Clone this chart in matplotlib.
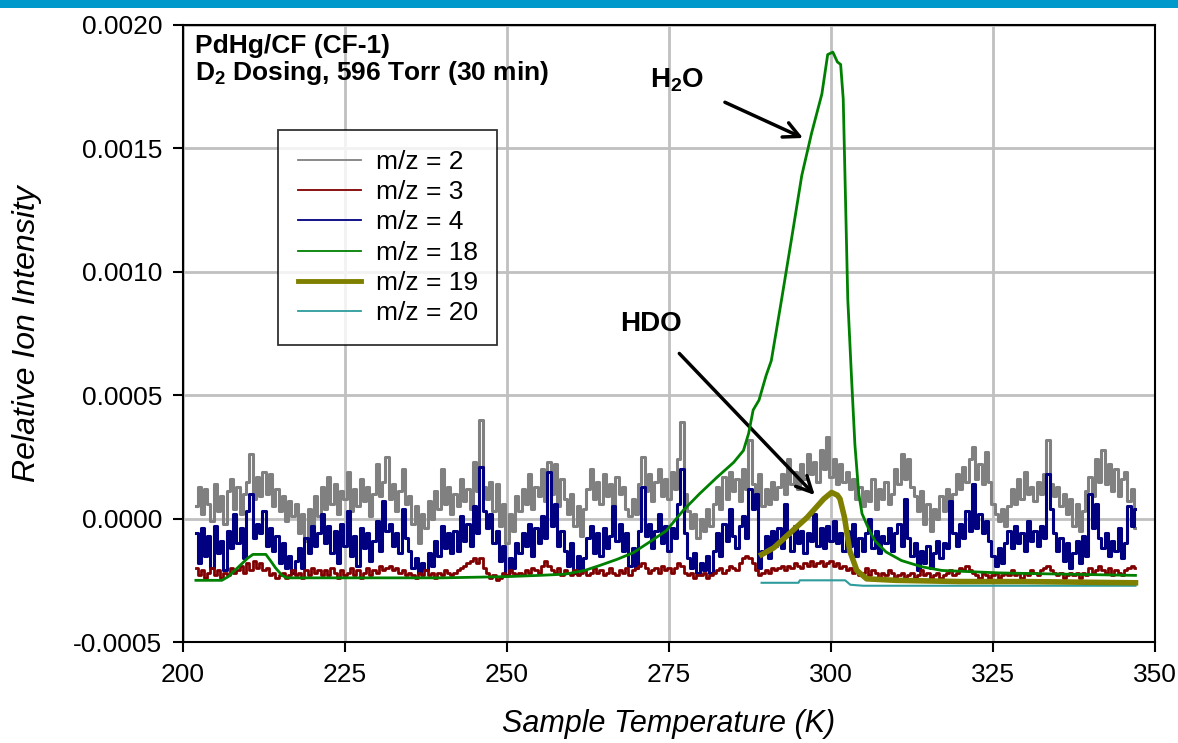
import matplotlib.pyplot as plt
import numpy as np
from matplotlib.ticker import FormatStrFormatter, MultipleLocator
from matplotlib.patches import Rectangle

plt.rcParams['font.family'] = ['Liberation Sans', 'DejaVu Sans']
plt.rcParams['mathtext.fontset'] = 'custom'
plt.rcParams['mathtext.rm'] = 'Liberation Sans'
plt.rcParams['mathtext.bf'] = 'Liberation Sans:bold'
plt.rcParams['mathtext.it'] = 'Liberation Sans:italic'

# values below are in units of 1e-4 (relative ion intensity)
SCALE = 1e-4

# noisy traces, sampled every 0.5 K from 202 K to 347 K
t_start, t_stop, t_step = 202.0, 347.0, 0.5
temps = np.arange(t_start, t_stop + t_step / 2, t_step)

mz2 = [0.5, 1.3, 0.2, 1.2, 0.6, -0.1, 1.4, 0.3, 0.9, -0.2, 1.1, 1.6, 0.4, 1.3, 0.2, 1.0, 1.5, 2.6, 0.8, 1.7,
       0.9, 1.9, 1.0, 1.8, 0.5, 1.2, 0.3, 0.9, -0.1, 0.7, 0.1, 0.6, -0.6, 0.2, -0.9, 0.4, -0.4, 0.9, 0.1, 1.3,
       0.4, 1.7, 0.6, 1.4, 0.2, 1.1, 0.8, 1.9, 0.3, 1.2, 0.5, 1.6, 0.7, 1.3, 0.1, 1.0, 2.2, 0.9, 1.5, 2.5,
       0.8, 1.4, 0.3, 1.1, 2.0, 0.6, 0.9, -0.2, 0.5, -1.0, 0.2, -0.4, 0.7, 0.0, 1.1, 0.4, 2.0, 0.6, 1.3, 0.2,
       1.0, 0.5, 1.6, 0.7, 1.2, 0.4, 2.3, 1.1, 4.0, 1.3, 0.8, 1.5, 0.3, 1.4, -0.3, 0.6, -1.0, 0.2, -0.5, 0.9,
       0.3, 1.2, 0.6, 1.8, 0.4, 1.3, 0.9, 2.0, 0.7, 2.3, 1.0, 2.2, 0.5, 1.6, 0.8, 0.2, 1.0, -0.3, 0.5, -0.7,
       0.4, 1.2, 2.0, 0.8, 1.5, 0.6, 1.8, 0.9, 1.4, 0.5, 1.7, 1.0, 1.3, 0.4, 0.1, 0.8, 0.2, 1.4, 2.5, 1.1,
       1.8, 0.7, 1.5, 2.0, 0.9, 1.6, 0.8, 1.9, 1.2, 2.4, 3.9, 1.0, 0.3, -0.4, 0.2, -0.8, 0.0, -0.5, 0.4, -0.3,
       0.6, 1.3, 0.4, 1.7, 0.8, 1.9, 1.1, 1.6, 0.7, 2.0, 1.2, 3.2, 1.4, 0.9, 1.8, 0.5, 1.2, 0.6, 1.5, 0.8,
       1.3, 1.8, 1.0, 2.4, 1.4, 1.9, 1.2, 2.2, 1.6, 2.6, 1.8, 2.3, 1.5, 2.8, 2.0, 3.3, 1.7, 2.4, 1.4, 2.2,
       1.5, 1.9, 1.2, 1.6, 0.8, 1.3, 0.5, 1.1, 0.7, 1.6, 0.4, 1.2, 0.8, 1.5, 0.6, 1.0, 2.0, 1.4, 2.6, 1.6,
       2.4, 1.3, 0.9, 0.3, 1.1, -0.2, 0.6, -0.5, 0.4, 0.0, 0.9, 0.3, 1.2, 0.5, 1.0, 1.8, 1.2, 2.1, 1.5, 2.4,
       2.9, 1.6, 2.2, 1.4, 2.7, 1.5, 0.6, 0.2, -0.1, 0.4, -0.3, 0.5, 1.2, 0.6, 1.6, 0.8, 1.9, 1.0, 1.3, 0.7,
       1.5, 1.0, 1.8, 3.2, 1.4, 0.9, 1.3, 0.5, 1.0, 0.2, 0.8, -0.3, 0.6, -0.5, 0.3, 1.1, 1.7, 0.9, 2.4, 1.5,
       2.8, 1.4, 2.2, 1.1, 2.0, 0.9, 1.6, 1.9, 0.7, 1.2, -0.4]

mz3 = [-2.0, -2.3, -2.1, -2.4, -2.2, -2.0, -2.3, -2.1, -2.4, -2.2, -2.3, -2.0, -2.2, -2.1, -1.9, -2.2, -1.8, -2.1, -1.7, -2.0,
       -1.8, -2.1, -2.0, -2.3, -2.2, -2.4, -2.3, -2.2, -2.4, -2.3, -2.1, -2.3, -2.2, -2.4, -2.1, -2.3, -2.0, -2.2, -2.1, -2.3,
       -2.1, -2.3, -2.0, -2.2, -2.4, -2.1, -2.3, -2.2, -2.0, -2.3, -2.1, -2.4, -2.2, -2.0, -2.3, -2.1, -2.2, -1.9, -2.1, -2.0,
       -1.9, -2.1, -2.0, -2.2, -2.1, -2.3, -2.2, -2.3, -2.4, -2.2, -2.3, -2.1, -2.3, -2.2, -2.4, -2.2, -2.3, -2.1, -2.2, -2.3,
       -2.2, -2.1, -2.0, -1.9, -1.8, -1.7, -1.6, -1.8, -1.6, -2.0, -2.2, -2.4, -2.3, -2.5, -2.4, -2.2, -2.3, -2.1, -2.2, -2.3,
       -2.2, -2.3, -2.1, -2.2, -2.0, -2.1, -2.2, -1.9, -1.7, -1.9, -2.1, -2.2, -2.0, -2.3, -2.1, -2.2, -2.3, -2.1, -2.3, -2.2,
       -2.1, -2.3, -2.2, -2.0, -2.2, -2.1, -2.3, -2.2, -2.0, -2.2, -2.3, -2.1, -2.2, -2.0, -2.3, -2.1, -2.0, -1.9, -1.8, -2.0,
       -2.2, -2.1, -2.0, -2.2, -1.9, -2.1, -2.0, -2.2, -2.0, -1.8, -1.9, -2.2, -2.3, -2.2, -2.4, -2.3, -2.3, -2.2, -2.4, -2.3,
       -2.2, -2.1, -2.0, -2.2, -2.1, -1.9, -2.0, -2.1, -1.8, -1.6, -1.5, -1.6, -1.8, -2.1, -2.3, -2.2, -2.1, -2.2, -2.0, -2.1,
       -2.0, -1.9, -2.1, -1.9, -2.0, -1.8, -1.9, -2.0, -1.8, -1.9, -1.7, -1.9, -1.8, -1.7, -1.9, -1.8, -1.7, -1.9, -1.8, -2.0,
       -1.9, -2.1, -2.0, -2.2, -2.1, -2.3, -2.2, -2.0, -2.3, -2.1, -2.2, -2.4, -2.2, -2.3, -2.1, -2.2, -2.4, -2.3, -2.2, -2.4,
       -2.3, -2.2, -2.4, -2.3, -2.1, -2.3, -2.2, -2.4, -2.3, -2.2, -2.4, -2.3, -2.2, -2.1, -2.3, -2.2, -2.0, -2.1, -1.9, -2.1,
       -2.2, -2.3, -2.4, -2.2, -2.3, -2.4, -2.3, -2.2, -2.4, -2.3, -2.2, -2.3, -2.1, -2.3, -2.2, -2.4, -2.2, -2.3, -2.1, -2.2,
       -2.3, -2.1, -2.0, -1.9, -2.1, -2.2, -2.3, -2.2, -2.4, -2.3, -2.2, -2.3, -2.2, -2.4, -2.2, -2.3, -2.0, -2.2, -2.1, -1.9,
       -2.1, -2.2, -2.0, -2.3, -2.1, -2.2, -2.3, -2.1, -2.0, -1.9, -2.0]

mz4 = [-0.6, -1.8, -0.4, -1.5, -0.7, -2.0, -0.3, -1.4, -0.9, -2.1, -0.5, -1.2, 0.2, -1.0, -0.4, -1.6, 0.3, 1.0, -0.8, -0.2,
       -0.6, 0.3, -1.1, -0.4, -1.3, -0.7, -1.8, -1.0, -2.0, -1.5, -2.2, -1.7, -1.2, -2.0, -0.8, -1.4, -0.3, -1.1, -0.6, 0.2,
       -1.0, -0.3, -1.4, -0.5, -1.8, -0.2, -1.1, 0.3, -1.5, -0.7, -1.9, -0.4, -1.2, -0.6, -1.7, -0.9, -0.1, -1.3, 0.7, -0.5,
       -0.2, -1.1, -0.6, -1.4, 0.4, -0.8, -1.3, -2.0, -1.6, -2.2, -1.8, -2.1, -1.4, -1.9, -0.9, -1.5, -0.3, -1.2, -0.6, -1.4,
       -0.5, -1.3, 0.1, -0.9, -0.2, -1.1, 0.5, -0.6, 2.1, 0.3, -0.4, 0.2, -1.0, -0.5, -1.7, -1.1, -2.3, -1.6, -2.0, -1.0,
       -1.4, -0.6, -1.1, -0.2, -1.5, -0.4, -1.0, 0.1, -0.8, 1.9, -0.3, 0.6, -1.1, -0.5, -1.3, -1.9, -1.0, -2.2, -1.5, -2.1,
       -1.6, -0.8, -0.3, -1.4, -0.6, -1.5, -0.4, -1.2, -0.7, 0.5, -0.9, -0.2, -1.3, -0.6, -1.9, -1.2, -2.0, -0.5, 1.3, -0.7,
       -0.2, -1.2, -0.5, 0.2, -1.0, -0.3, -1.3, -0.4, -0.8, 0.6, 2.0, -0.6, -1.6, -2.0, -1.4, -2.2, -1.8, -2.1, -1.5, -2.2,
       -1.3, -0.6, -1.5, -0.2, -0.9, 0.4, -0.7, -1.2, -0.3, 0.1, -0.8, 1.2, 0.4, 1.0, -2.0, -1.3, -0.7, -1.6, -0.5, -1.1,
       -0.4, -1.2, 0.6, -0.7, -1.3, -0.3, -1.0, -0.5, -1.4, -0.6, -0.9, 0.2, -1.1, -0.4, -1.2, -0.3, -0.9, -0.1, -1.0, -0.6,
       -1.3, -0.5, -1.1, -0.2, -1.5, -0.8, -1.3, -0.6, 0.0, -1.2, -0.5, -1.4, -0.7, -1.0, -0.4, -1.3, -0.6, -0.2, -1.1, 0.8,
       -0.8, -1.5, -1.0, -2.1, -1.3, -1.8, -1.1, -2.0, -1.4, -0.9, -1.6, -1.0, -1.2, 0.7, -0.6, -1.1, -0.2, -0.8, 0.3, -0.5,
       1.4, -0.4, 0.2, -0.6, -0.1, -0.9, -1.5, -1.9, -1.2, -1.8, -1.0, -0.5, -1.2, -0.3, -1.0, -0.6, -1.3, -0.1, -0.9, -0.5,
       -1.1, -0.3, -0.8, 1.8, 0.4, -0.6, -1.3, -0.8, -1.7, -1.0, -2.0, -1.4, -0.9, -1.8, -0.7, -1.5, 1.0, -0.4, 0.6, -0.8,
       -1.2, -0.6, -1.5, -0.9, -1.3, -0.4, -1.6, -1.0, 0.5, -0.3, 0.4]

# smooth traces, read point by point
mz18_t = [202, 206, 207, 208, 209, 210, 210.8, 212.8, 213.5, 214.3, 215.3, 216, 225, 240, 250, 255, 259,
          262, 264.3, 267, 269.5, 272, 274.6, 277.2, 279.7, 282.4, 285, 286.5, 287.3, 288, 288.9, 290,
          290.8, 292.4, 293.9, 295.5, 297, 298.6, 299.5, 300.3, 301, 301.5, 301.9, 302.6, 303.2, 303.7,
          304.3, 304.8, 305.8, 306.8, 308.5, 310.9, 314, 317.1, 326, 336, 347]
mz18 = [-2.5, -2.5, -2.35, -2.1, -1.85, -1.6, -1.45, -1.45, -1.7, -2.0, -2.3, -2.4, -2.4, -2.4, -2.35, -2.3, -2.25,
        -2.1, -1.9, -1.65, -1.38, -0.95, -0.49, 0.33, 1.0, 1.67, 2.28, 2.76, 3.45, 4.4, 4.8, 5.8,
        6.4, 8.9, 11.3, 13.9, 15.6, 17.2, 18.8, 18.9, 18.5, 18.4, 17.0, 8.9, 5.6, 3.0,
        1.0, 0.2, -0.4, -0.9, -1.35, -1.7, -1.95, -2.1, -2.2, -2.25, -2.3]

mz19_t = [289.3, 291.2, 293.6, 296.3, 298.9, 300.1, 301.0, 301.4, 302.1, 302.9, 304.0, 305.5, 310, 320, 330, 340, 347]
mz19 = [-1.46, -1.18, -0.6, 0.04, 0.8, 1.06, 0.95, 0.8, 0.04, -1.3, -2.1, -2.44, -2.5, -2.55, -2.55, -2.58, -2.6]

mz20_t = [289.3, 295.0, 295.2, 302.2, 303.0, 305.0, 347]
mz20 = [-2.6, -2.6, -2.5, -2.5, -2.68, -2.72, -2.72]

labels = ['m/z = 2', 'm/z = 3', 'm/z = 4', 'm/z = 18', 'm/z = 19', 'm/z = 20']
colors = ['#808080', '#800000', '#000080', '#008000', '#808000', '#2E9C9C']

fig = plt.figure(figsize=(11.78, 7.43), dpi=100)
ax = fig.add_axes([0.1553, 0.1359, 0.8251, 0.8305])

# blue strip at the very top of the slide
fig.patches.append(Rectangle((0, 0.989), 1, 0.011, transform=fig.transFigure,
                             facecolor='#0099CC', edgecolor='none'))

ax.plot(temps, np.array(mz2) * SCALE, color=colors[0], lw=2.2, drawstyle='steps-mid',
        label=labels[0], zorder=2)
ax.plot(temps, np.array(mz3) * SCALE, color=colors[1], lw=2.0, drawstyle='steps-mid',
        label=labels[1], zorder=4)
ax.plot(temps, np.array(mz4) * SCALE, color=colors[2], lw=2.2, drawstyle='steps-mid',
        label=labels[2], zorder=3)
ax.plot(mz18_t, np.array(mz18) * SCALE, color=colors[3], lw=2, label=labels[3], zorder=5)
ax.plot(mz19_t, np.array(mz19) * SCALE, color=colors[4], lw=4, label=labels[4], zorder=6)
ax.plot(mz20_t, np.array(mz20) * SCALE, color=colors[5], lw=1.5, label=labels[5], zorder=5)

ax.set_xlim(200, 350)
ax.set_ylim(-0.0005, 0.0020)
ax.xaxis.set_major_locator(MultipleLocator(25))
ax.yaxis.set_major_locator(MultipleLocator(0.0005))
ax.yaxis.set_major_formatter(FormatStrFormatter('%.4f'))
ax.grid(True, color='#C0C0C0', lw=2, zorder=0)
ax.set_axisbelow(True)
ax.tick_params(direction='out', length=7, width=1.5, labelsize=19, pad=8)
for side in ['left', 'bottom', 'top', 'right']:
    ax.spines[side].set_linewidth(1.5)

ax.set_xlabel('Sample Temperature (K)', fontsize=22, style='italic', labelpad=16)
ax.set_ylabel('Relative Ion Intensity', fontsize=23, style='italic', labelpad=22)

ax.text(0.012, 0.985, 'PdHg/CF (CF-1)\nD$_\\mathbf{2}$ Dosing, 596 Torr (30 min)',
        transform=ax.transAxes, ha='left', va='top', fontsize=19, fontweight='bold', linespacing=1.05)

ax.annotate('H$_\\mathbf{2}$O', xy=(295.7, 0.001542), xytext=(276.3, 0.001775),
            fontsize=20, fontweight='bold', ha='center', va='center',
            arrowprops=dict(arrowstyle='->', lw=2.5, color='black', mutation_scale=28,
                            shrinkA=14, shrinkB=0))
ax.annotate('HDO', xy=(297.5, 0.0000955), xytext=(272.2, 0.00079),
            fontsize=20, fontweight='bold', ha='center', va='center',
            arrowprops=dict(arrowstyle='->', lw=2.5, color='black', mutation_scale=28,
                            shrinkA=14, shrinkB=0))

leg = ax.legend(loc='upper left', bbox_to_anchor=(0.0977, 0.8298), borderaxespad=0,
                fontsize=19, frameon=True, fancybox=False, edgecolor='black',
                handlelength=2.4, handletextpad=0.55, labelspacing=0.24, borderpad=0.75)
leg.get_frame().set_linewidth(1.3)
for line in leg.get_lines():
    line.set_linewidth(1.3)
leg.get_lines()[4].set_linewidth(3.5)

fig.savefig('out.png', dpi=100)
